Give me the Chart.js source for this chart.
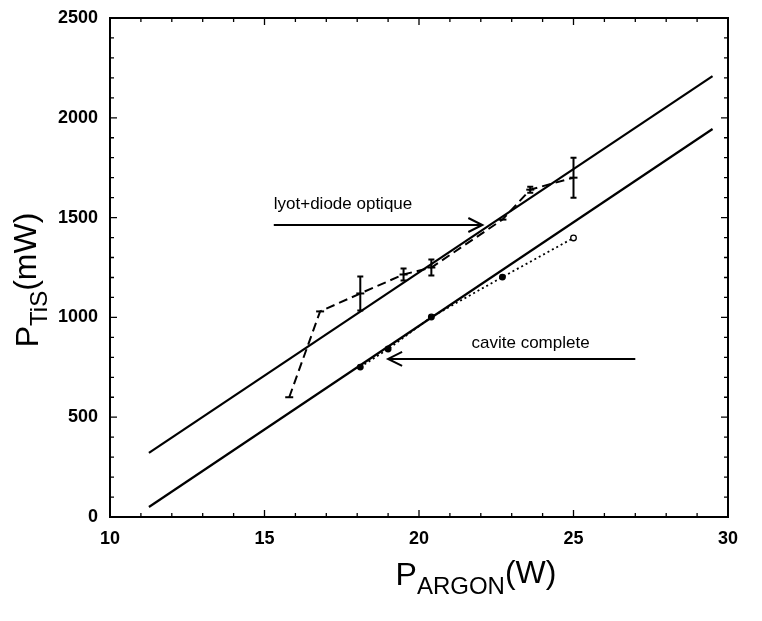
<!DOCTYPE html>
<html>
<head>
<meta charset="utf-8">
<script src="https://cdn.jsdelivr.net/npm/chart.js@4/dist/chart.umd.min.js"></script>
<style>
  html, body { margin: 0; padding: 0; background: #fff; }
  #wrap { width: 762px; height: 621px; }
</style>
</head>
<body>
<div id="wrap"><canvas id="tisChart" width="762" height="621"></canvas></div>
<script>
const argonLyot = [15.8, 16.8, 18.1, 19.5, 20.4, 22.7, 23.6, 25.0];
const powerLyot = [600, 1030, 1120, 1215, 1250, 1490, 1640, 1700];
const errLyot = [0, 0, 85, 30, 40, 0, 15, 100];

const argonCavite = [18.1, 19.0, 20.4, 22.7, 25.0];
const powerCavite = [751, 842, 1002, 1202, 1398];

// straight fit lines
const fitArgon = [11.26, 29.5];
const fitUpper = [321, 2209];
const fitLower = [50, 1944];

const xTicks = [10, 15, 20, 25, 30];
const yTicks = [0, 500, 1000, 1500, 2000, 2500];

const pts = (xs, ys) => xs.map((x, i) => ({ x: x, y: ys[i] }));

// frame, inward ticks, error bars, arrows and axis titles
const decorPlugin = {
  id: "decor",
  afterDatasetsDraw(chart) {
    const { ctx, chartArea: a, scales } = chart;
    const xs = scales.x, ys = scales.y;
    ctx.save();
    ctx.strokeStyle = "#000";
    ctx.fillStyle = "#000";

    // frame
    ctx.lineWidth = 2;
    ctx.strokeRect(a.left, a.top, a.right - a.left, a.bottom - a.top);

    // inward ticks
    ctx.lineWidth = 1.3;
    for (let v = 10; v <= 30; v += 1) {
      const px = xs.getPixelForValue(v);
      const len = v % 5 === 0 ? 7 : 4;
      ctx.beginPath();
      ctx.moveTo(px, a.bottom); ctx.lineTo(px, a.bottom - len);
      ctx.moveTo(px, a.top); ctx.lineTo(px, a.top + len);
      ctx.stroke();
    }
    for (let v = 0; v <= 2500; v += 100) {
      const py = ys.getPixelForValue(v);
      const len = v % 500 === 0 ? 7 : 4;
      ctx.beginPath();
      ctx.moveTo(a.left, py); ctx.lineTo(a.left + len, py);
      ctx.moveTo(a.right, py); ctx.lineTo(a.right - len, py);
      ctx.stroke();
    }

    // error bars
    ctx.lineWidth = 2;
    argonLyot.forEach((x, i) => {
      if (!errLyot[i]) return;
      const px = xs.getPixelForValue(x);
      const top = ys.getPixelForValue(powerLyot[i] + errLyot[i]);
      const bot = ys.getPixelForValue(powerLyot[i] - errLyot[i]);
      ctx.beginPath();
      ctx.moveTo(px, top); ctx.lineTo(px, bot);
      ctx.moveTo(px - 3, top); ctx.lineTo(px + 3, top);
      ctx.moveTo(px - 3, bot); ctx.lineTo(px + 3, bot);
      ctx.stroke();
    });

    // annotation arrows
    const arrow = (x1, x2, yv) => {
      const p1 = xs.getPixelForValue(x1), p2 = xs.getPixelForValue(x2);
      const py = ys.getPixelForValue(yv);
      const dir = p2 > p1 ? -1 : 1;
      ctx.lineWidth = 2;
      ctx.beginPath();
      ctx.moveTo(p1, py); ctx.lineTo(p2, py);
      ctx.moveTo(p2 + dir * 14, py - 7); ctx.lineTo(p2, py); ctx.lineTo(p2 + dir * 14, py + 7);
      ctx.stroke();
    };
    arrow(15.3, 22.05, 1463);
    arrow(27.0, 19.0, 792);

    ctx.font = "17px 'Liberation Sans', Arial, sans-serif";
    ctx.textBaseline = "alphabetic";
    ctx.textAlign = "left";
    ctx.fillText("lyot+diode optique", xs.getPixelForValue(15.3), ys.getPixelForValue(1543));
    ctx.fillText("cavite complete", xs.getPixelForValue(21.7), ys.getPixelForValue(847));

    // axis titles with subscripts
    const big = "32px 'Liberation Sans', Arial, sans-serif";
    const small = "24px 'Liberation Sans', Arial, sans-serif";
    const drawTitle = (parts, cx, base) => {
      let w = 0;
      parts.forEach(p => { ctx.font = p[1]; w += ctx.measureText(p[0]).width; });
      let x = cx - w / 2;
      parts.forEach(p => {
        ctx.font = p[1];
        ctx.fillText(p[0], x, base + p[2]);
        x += ctx.measureText(p[0]).width;
      });
    };
    drawTitle([["P", big, 0], ["ARGON", small, 9], ["(W)", big, -2]], 476, 585);

    ctx.translate(38, 280);
    ctx.rotate(-Math.PI / 2);
    drawTitle([["P", big, 0], ["TiS", small, 9], ["(mW)", big, -2]], 0, 0);

    ctx.restore();
  }
};

const tickFont = { family: "'Liberation Sans', Arial, sans-serif", size: 18, weight: "bold" };

const ctx = document.getElementById("tisChart").getContext("2d");
new Chart(ctx, {
  type: "scatter",
  data: {
    datasets: [
      {
        data: pts(fitArgon, fitUpper),
        showLine: true,
        borderColor: "#000",
        borderWidth: 2.2,
        pointRadius: 0,
      },
      {
        data: pts(fitArgon, fitLower),
        showLine: true,
        borderColor: "#000",
        borderWidth: 2.2,
        pointRadius: 0,
      },
      {
        data: pts(argonLyot, powerLyot),
        showLine: true,
        borderColor: "#000",
        borderWidth: 2,
        borderDash: [9, 5],
        pointStyle: "line",
        pointRadius: 4,
        pointBorderWidth: 2,
        pointBorderColor: "#000",
      },
      {
        data: pts(argonCavite, powerCavite),
        showLine: true,
        borderColor: "#000",
        borderWidth: 1.8,
        borderDash: [2, 3],
        pointStyle: "circle",
        pointRadius: 2.8,
        pointBorderWidth: 1.3,
        pointBorderColor: "#000",
        pointBackgroundColor: ["#000", "#000", "#000", "#000", "#fff"],
      },
    ],
  },
  options: {
    responsive: false,
    animation: false,
    layout: { padding: { left: 0, right: 34, top: 18, bottom: 0 } },
    plugins: { legend: { display: false }, tooltip: { enabled: false } },
    scales: {
      x: {
        type: "linear",
        min: 10,
        max: 30,
        afterBuildTicks: (s) => { s.ticks = xTicks.map(v => ({ value: v })); },
        afterFit: (s) => { s.height = 104; },
        grid: { display: false },
        border: { display: false },
        ticks: { padding: 3, color: "#000", font: tickFont, callback: (v) => String(v) },
      },
      y: {
        min: 0,
        max: 2500,
        afterBuildTicks: (s) => { s.ticks = yTicks.map(v => ({ value: v })); },
        afterFit: (s) => { s.width = 110; },
        grid: { display: false },
        border: { display: false },
        ticks: { padding: 4, color: "#000", font: tickFont, callback: (v) => String(v) },
      },
    },
  },
  plugins: [decorPlugin],
});
</script>
</body>
</html>
